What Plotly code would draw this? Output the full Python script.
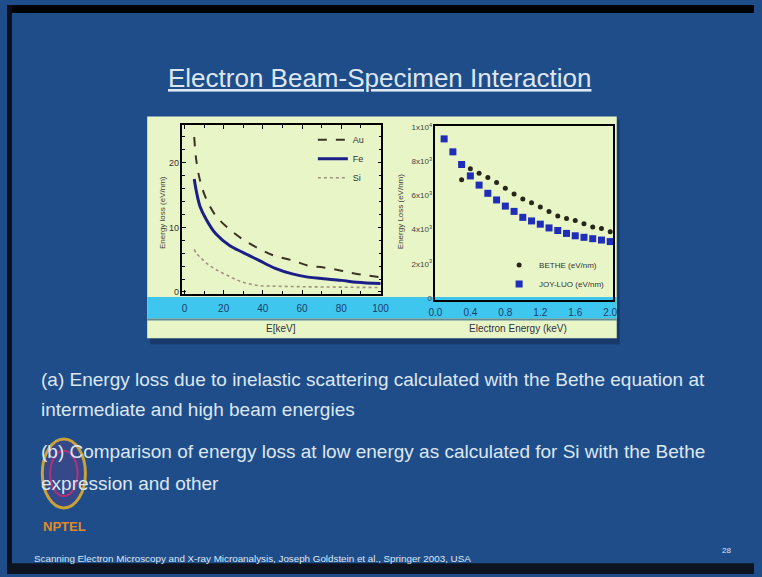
import plotly.graph_objects as go

W, H = 762, 577
def px(x): return x / W
def py(y): return 1 - y / H

# ---- data: left chart (Bethe energy loss, eV/nm vs E keV)
energy_keV = [5, 6, 8, 11, 16, 23, 30, 38, 46, 55, 63, 71, 80, 88, 100]
loss_Au = [24.0, 20.5, 17.2, 14.5, 11.8, 9.7, 8.1, 6.7, 5.6, 4.9, 4.1, 3.8, 3.3, 2.8, 2.3]
loss_Fe = [17.5, 15.7, 13.2, 11.3, 9.0, 7.2, 6.1, 4.9, 3.7, 2.8, 2.3, 2.05, 1.8, 1.5, 1.3]
loss_Si = [6.6, 6.0, 5.4, 4.5, 3.5, 2.4, 1.5, 1.0, 0.9, 0.85, 0.8, 0.78, 0.75, 0.72, 0.7]
left_xticks = [0, 20, 40, 60, 80, 100]
left_yticks = [0, 10, 20]

# ---- data: right chart (low energy, Si)
energy_joy = [0.1, 0.2, 0.3, 0.4, 0.5, 0.6, 0.7, 0.8, 0.9, 1.0,
              1.1, 1.2, 1.3, 1.4, 1.5, 1.6, 1.7, 1.8, 1.9, 2.0]
joy_luo = [9320, 8560, 7820, 7150, 6610, 6130, 5740, 5380, 5070, 4720,
           4510, 4320, 4100, 3950, 3780, 3640, 3550, 3470, 3390, 3300]
energy_bethe = [0.3, 0.4, 0.5, 0.6, 0.7, 0.8, 0.9, 1.0, 1.1, 1.2,
                1.3, 1.4, 1.5, 1.6, 1.7, 1.8, 1.9, 2.0]
bethe = [6920, 7570, 7300, 7050, 6760, 6420, 6090, 5800, 5570, 5320,
         5070, 4800, 4650, 4530, 4350, 4160, 4070, 3870]
right_xticks = [0.0, 0.4, 0.8, 1.2, 1.6, 2.0]
right_xlabels = ["0.0", "0.4", "0.8", "1.2", "1.6", "2.0"]
right_yticks = [0, 2000, 4000, 6000, 8000, 10000]
right_ylabels = ["0", "2x10<sup>3</sup>", "4x10<sup>3</sup>", "6x10<sup>3</sup>",
                 "8x10<sup>3</sup>", "1x10<sup>4</sup>"]

FONT = "Liberation Sans, Arial, sans-serif"
BG = "#1f4d8a"
PANEL = "#e8f5c6"
TXT = "#dde7f2"

fig = go.Figure()
fig.add_trace(go.Scatter(x=energy_keV, y=loss_Au, name="Au", mode="lines", line_shape="spline",
                         line=dict(color="#3b3424", width=2, dash="dash"), xaxis="x", yaxis="y"))
fig.add_trace(go.Scatter(x=energy_keV, y=loss_Fe, name="Fe", mode="lines", line_shape="spline",
                         line=dict(color="#1b1f86", width=3), xaxis="x", yaxis="y"))
fig.add_trace(go.Scatter(x=energy_keV, y=loss_Si, name="Si", mode="lines", line_shape="spline",
                         line=dict(color="#a09280", width=1.6, dash="dot"), xaxis="x", yaxis="y"))

fig.add_trace(go.Scatter(x=energy_bethe, y=bethe, name="BETHE (eV/nm)", mode="markers",
                         marker=dict(color="#26261a", size=5, symbol="circle"),
                         xaxis="x2", yaxis="y2", legend="legend2", cliponaxis=False))
fig.add_trace(go.Scatter(x=energy_joy, y=joy_luo, name="JOY-LUO (eV/nm)", mode="markers",
                         marker=dict(color="#1f2db8", size=7, symbol="square"),
                         xaxis="x2", yaxis="y2", legend="legend2", cliponaxis=False))

shapes = [
    dict(type="rect", xref="paper", yref="paper", x0=0, x1=1, y0=py(8), y1=1,
         fillcolor="black", line_width=0, layer="below"),
    dict(type="rect", xref="paper", yref="paper", x0=0, x1=px(5), y0=0, y1=1,
         fillcolor="#0a0f1a", line_width=0, layer="below"),
    dict(type="rect", xref="paper", yref="paper", x0=0, x1=1, y0=0, y1=py(566),
         fillcolor="#0d1420", line_width=0, layer="below"),
    dict(type="rect", xref="paper", yref="paper", x0=px(146), x1=px(625), y0=py(344), y1=py(116),
         fillcolor="#173a6a", line_width=0, layer="below"),
    dict(type="rect", xref="paper", yref="paper", x0=px(143), x1=px(622), y0=py(338), y1=py(113),
         fillcolor=PANEL, line_width=0, layer="below"),
    dict(type="rect", xref="paper", yref="paper", x0=px(143), x1=px(622), y0=py(318), y1=py(296),
         fillcolor="#3ec6ee", line_width=0, layer="below"),
    dict(type="rect", xref="paper", yref="paper", x0=px(143), x1=px(622), y0=py(320), y1=py(318),
         fillcolor="#5b8c98", line_width=0, layer="below"),
    # NPTEL logo ring
    dict(type="circle", xref="paper", yref="paper", x0=px(36), x1=px(80), y0=py(510), y1=py(440),
         line=dict(color="#c9a23a", width=3), fillcolor="rgba(120,60,140,0.25)", layer="below"),
    dict(type="circle", xref="paper", yref="paper", x0=px(44), x1=px(72), y0=py(498), y1=py(452),
         line=dict(color="#b0337a", width=2), layer="below"),
]

ann = []
def text(x, y, s, size, color=TXT, xanchor="left", family=FONT, angle=0):
    ann.append(dict(x=px(x), y=py(y), xref="paper", yref="paper", text=s, showarrow=False,
                    xanchor=xanchor, yanchor="middle", textangle=angle, borderpad=0,
                    font=dict(size=size, color=color, family=family)))

text(380, 74, "<u>Electron Beam-Specimen Interaction</u>", 26, xanchor="center")
text(34, 380, "(a) Energy loss due to inelastic scattering calculated with the Bethe equation at", 19)
text(34, 410, "intermediate and high beam energies", 19)
text(34, 453, "(b) Comparison of energy loss at low energy as calculated for Si with the Bethe", 19)
text(34, 485, "expression and other", 19)
text(36, 529, "<b>NPTEL</b>", 13, color="#e08a2a")
text(27, 561, "Scanning Electron Microscopy and X-ray Microanalysis, Joseph Goldstein et al., Springer 2003, USA", 9.8)
text(734, 553, "28", 8, xanchor="center")
text(280, 328, "E[keV]", 10, color="#334", xanchor="center")
text(521, 328, "Electron Energy (keV)", 10, color="#334", xanchor="center")
text(158, 210, "Energy loss (eV/nm)", 8, color="#444", xanchor="center", angle=-90)
text(401, 210, "Energy Loss (eV/nm)", 8, color="#444", xanchor="center", angle=-90)

axis_common = dict(showline=True, linecolor="black", linewidth=1.5, mirror="allticks",
                   showgrid=False, zeroline=False)

fig.update_layout(
    width=W, height=H, margin=dict(l=0, r=0, t=0, b=0),
    paper_bgcolor=BG, plot_bgcolor=PANEL, shapes=shapes, annotations=ann,
    xaxis=dict(domain=[px(179), px(382)], range=[-1, 100.5], tickvals=left_xticks,
               ticks="inside", ticklen=4, tickcolor="black",
               minor=dict(dtick=10, ticks="inside", ticklen=3, tickcolor="black"),
               tickfont=dict(size=10, color="#1d3d6d", family=FONT), ticklabelstandoff=4,
               ticklabeloverflow="allow", anchor="y", **axis_common),
    yaxis=dict(domain=[py(293), py(122)], range=[-0.3, 25.8], tickvals=left_yticks,
               ticks="inside", ticklen=4, tickcolor="black",
               minor=dict(dtick=2, ticks="inside", ticklen=3, tickcolor="black"),
               tickfont=dict(size=9, color="#333", family=FONT),
               anchor="x", **axis_common),
    xaxis2=dict(domain=[px(437), px(618)], range=[0, 2.03], tickvals=right_xticks, ticktext=right_xlabels,
                ticks="", tickfont=dict(size=10, color="#1d3d6d", family=FONT), ticklabelstandoff=2,
                ticklabeloverflow="allow", anchor="y2", **axis_common),
    yaxis2=dict(domain=[py(299), py(123)], range=[-116, 10058], tickvals=right_yticks, ticktext=right_ylabels,
                ticks="", tickfont=dict(size=8, color="#444", family=FONT),
                anchor="x2", **axis_common),
    legend=dict(x=px(312), y=py(122), xanchor="left", yanchor="top", bgcolor="rgba(0,0,0,0)",
                font=dict(size=9, color="#333", family=FONT), itemwidth=30, tracegroupgap=0),
    legend2=dict(x=px(502), y=py(249), xanchor="left", yanchor="top", bgcolor="rgba(0,0,0,0)",
                 font=dict(size=8, color="#333", family=FONT), itemwidth=30, tracegroupgap=0),
)

fig.write_html("out.html", config={"displayModeBar": False},
               post_script="document.body.style.margin='0';document.body.style.padding='0';")
